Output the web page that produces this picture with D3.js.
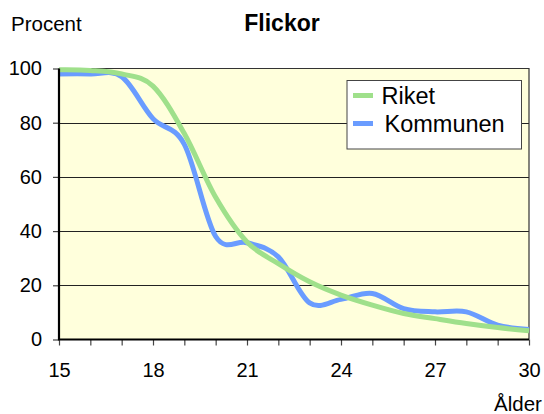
<!DOCTYPE html>
<html>
<head>
<meta charset="utf-8">
<script src="https://cdn.jsdelivr.net/npm/d3@7"></script>
<style>
  html, body { margin: 0; padding: 0; background: #ffffff; }
  svg { display: block; font-family: "Liberation Sans", Arial, sans-serif; }
</style>
</head>
<body>
<svg id="chart" width="544" height="414"></svg>
<script>
// ---- data ----
const ages = [15, 16, 17, 18, 19, 20, 21, 22, 23, 24, 25, 26, 27, 28, 29, 30];
const riket = [99.5, 99.3, 98, 93.5, 76, 52.5, 36, 28, 21.3, 16.4, 12.7, 9.6, 7.7, 5.9, 4.4, 3.2];
const kommunen = [98, 98, 97, 81.5, 72, 38, 35.7, 30.5, 13.5, 14.8, 17, 11.4, 10.2, 10.2, 5.3, 3.7];
const yTicks = [0, 20, 40, 60, 80, 100];
const xLabelTicks = [15, 18, 21, 24, 27, 30];
const seriesNames = ["Riket", "Kommunen"];
const title = "Flickor";
const yTitle = "Procent";
const xTitle = "Ålder";

const colors = { Riket: "#9fe08b", Kommunen: "#6a9cff" };

// ---- layout ----
const svg = d3.select("#chart");
const plot = { left: 59, top: 68.5, right: 529, bottom: 339.5 };

const x = d3.scaleLinear().domain([15, 30]).range([plot.left, plot.right]);
const y = d3.scaleLinear().domain([0, 100]).range([plot.bottom, plot.top]);

// plot background
svg.append("rect")
  .attr("x", plot.left).attr("y", plot.top)
  .attr("width", plot.right - plot.left).attr("height", plot.bottom - plot.top)
  .attr("fill", "#ffffdc");

// gridlines
svg.append("g").selectAll("line")
  .data(yTicks.filter(d => d > 0 && d < 100))
  .join("line")
  .attr("x1", plot.left).attr("x2", plot.right)
  .attr("y1", d => Math.round(y(d)) + 0.5).attr("y2", d => Math.round(y(d)) + 0.5)
  .attr("stroke", "#222").attr("stroke-width", 1);

// top and right border
svg.append("path")
  .attr("d", `M${plot.left},${plot.top}H${plot.right}V${plot.bottom}`)
  .attr("fill", "none").attr("stroke", "#333").attr("stroke-width", 1.2);

// axes
const yAxis = d3.axisLeft(y).tickValues(yTicks).tickSize(6).tickPadding(11).tickFormat(d3.format("d"));
const gy = svg.append("g").attr("transform", `translate(${plot.left},0)`).call(yAxis);
gy.select(".domain").remove();
gy.selectAll(".tick line").attr("stroke", "#444").attr("stroke-width", 1.2);
gy.selectAll("text").attr("font-size", 20).attr("fill", "#000")
  .attr("font-family", "'Liberation Sans', Arial, sans-serif");

const xAxis = d3.axisBottom(x).tickValues(ages).tickSize(6).tickPadding(17.5)
  .tickFormat(d => xLabelTicks.includes(d) ? d : "");
const gx = svg.append("g").attr("transform", `translate(0,${plot.bottom})`).call(xAxis);
gx.select(".domain").remove();
gx.selectAll(".tick line").attr("stroke", "#444").attr("stroke-width", 1.2);
gx.selectAll("text").attr("font-size", 20).attr("fill", "#000")
  .attr("font-family", "'Liberation Sans', Arial, sans-serif");

// lines
const line = d3.line().x((d, i) => x(ages[i])).y(d => y(d)).curve(d3.curveCatmullRom.alpha(0));
const lines = svg.append("g");
lines.append("path").datum(kommunen).attr("d", line)
  .attr("fill", "none").attr("stroke", colors.Kommunen).attr("stroke-width", 5);
lines.append("path").datum(riket).attr("d", line)
  .attr("fill", "none").attr("stroke", colors.Riket).attr("stroke-width", 5);

// axis lines (thick) on top
svg.append("path")
  .attr("d", `M${plot.left},${plot.top}V${plot.bottom}H${plot.right}`)
  .attr("fill", "none").attr("stroke", "#000").attr("stroke-width", 2.2);

// legend
const lg = svg.append("g");
lg.append("rect")
  .attr("x", 347).attr("y", 80.5).attr("width", 174.5).attr("height", 68.5)
  .attr("fill", "#fff").attr("stroke", "#444").attr("stroke-width", 1);
seriesNames.forEach((name, i) => {
  const cy = [95.5, 123.5][i];
  lg.append("line").attr("x1", 353).attr("x2", 373).attr("y1", cy).attr("y2", cy)
    .attr("stroke", colors[name]).attr("stroke-width", 5);
  lg.append("text").attr("x", [381.5, 384.5][i]).attr("y", cy + 8)
    .attr("font-size", 23.5).attr("fill", "#000").text(name);
});

// titles
svg.append("text").attr("x", 282).attr("y", 31).attr("text-anchor", "middle")
  .attr("font-size", 23).attr("font-weight", "bold").attr("fill", "#000").text(title);
svg.append("text").attr("x", 11).attr("y", 31)
  .attr("font-size", 20.5).attr("fill", "#000").text(yTitle);
svg.append("text").attr("x", 494).attr("y", 411)
  .attr("font-size", 20.5).attr("fill", "#000").text(xTitle);
</script>
</body>
</html>
